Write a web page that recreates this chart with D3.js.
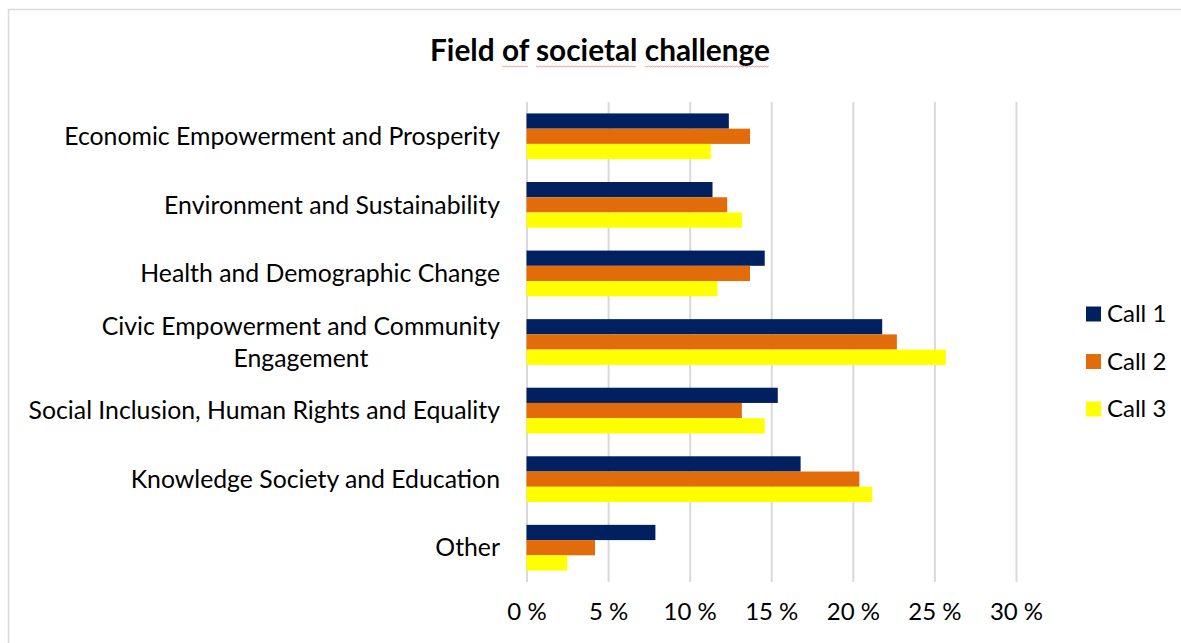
<!DOCTYPE html>
<html>
<head>
<meta charset="utf-8">
<script src="https://cdn.jsdelivr.net/npm/d3@7"></script>
<style>
  body { margin: 0; background: #fff; }
  svg { display: block; font-family: Lato, "Open Sans", sans-serif; }
  .tick line { stroke: #d9d9d9; stroke-width: 2px; }
  .tick text { font-size: 24px; fill: #000; }
</style>
</head>
<body>
<svg width="1181" height="643"></svg>
<script>
const categories = [
  'Economic Empowerment and Prosperity',
  'Environment and Sustainability',
  'Health and Demographic Change',
  'Civic Empowerment and Community Engagement',
  'Social Inclusion, Human Rights and Equality',
  'Knowledge Society and Education',
  'Other'
];
// line breaks for long labels
const categoryLines = {
  'Civic Empowerment and Community Engagement': ['Civic Empowerment and Community', 'Engagement']
};
const seriesNames = ['Call 1', 'Call 2', 'Call 3'];
const seriesColors = ['#002060', '#e36c0a', '#ffff00'];
const call1 = [12.4, 11.4, 14.6, 21.8, 15.4, 16.8, 7.9];
const call2 = [13.7, 12.3, 13.7, 22.7, 13.2, 20.4, 4.2];
const call3 = [11.3, 13.2, 11.7, 25.7, 14.6, 21.2, 2.5];
const xTicks = [0, 5, 10, 15, 20, 25, 30];
const titleText = 'Field of societal challenge';
const flaggedWords = ['of', 'societal', 'challenge'];

const seriesValues = [call1, call2, call3];
const data = categories.map((c, i) => ({
  category: c,
  values: seriesNames.map((s, j) => ({ series: s, value: seriesValues[j][i] }))
}));

const svg = d3.select('svg');
const plot = { left: 526.5, right: 1016, top: 102, bottom: 582 };

// chart border
svg.append('rect')
    .attr('x', 8.5).attr('y', 9.5)
    .attr('width', 1180).attr('height', 650)
    .attr('fill', '#fff')
    .attr('stroke', '#d9d9d9')
    .attr('stroke-width', 1.5);

const title = svg.append('text')
    .attr('x', 600).attr('y', 61)
    .attr('text-anchor', 'middle')
    .style('font-size', '29.8px')
    .style('font-weight', 'bold')
    .text(titleText);

// spell-check squiggles under some title words
const tNode = title.node();
let pos = 0;
titleText.split(' ').forEach(w => {
  const i = titleText.indexOf(w, pos);
  pos = i + w.length;
  if (!flaggedWords.includes(w)) return;
  const x0 = tNode.getStartPositionOfChar(i).x;
  const x1 = tNode.getEndPositionOfChar(i + w.length - 1).x;
  const pts = d3.range(x0, x1, 2).map((x, k) => [x, 66 + (k % 2 ? 1 : 0)]);
  svg.append('path')
      .attr('d', d3.line()(pts))
      .attr('fill', 'none')
      .attr('stroke', '#f4a0a0')
      .attr('stroke-width', 1);
});

const xScale = d3.scaleLinear().domain([0, 30]).range([plot.left, plot.right]);
const yScale = d3.scaleBand()
    .domain(categories)
    .range([plot.top, plot.bottom])
    .paddingInner(1 / 3)
    .paddingOuter(1 / 6);
const ySub = d3.scaleBand().domain(seriesNames).range([0, yScale.bandwidth()]);
const color = d3.scaleOrdinal().domain(seriesNames).range(seriesColors);

const xAxis = d3.axisBottom(xScale)
    .tickValues(xTicks)
    .tickSize(-(plot.bottom - plot.top))
    .tickPadding(21)
    .tickFormat(d => d + ' %');

svg.append('g')
    .attr('transform', `translate(0,${plot.bottom})`)
    .call(xAxis)
    .call(g => g.select('.domain').remove())
    .selectAll('text').style('font-family', 'Lato, sans-serif');

const groups = svg.append('g').selectAll('g')
  .data(data)
  .join('g')
    .attr('transform', d => `translate(0,${yScale(d.category)})`);

groups.selectAll('rect')
  .data(d => d.values)
  .join('rect')
    .attr('x', xScale(0))
    .attr('y', d => ySub(d.series))
    .attr('width', d => xScale(d.value) - xScale(0))
    .attr('height', ySub.bandwidth())
    .attr('fill', d => color(d.series));

// category labels
const labels = svg.append('g').selectAll('text')
  .data(categories)
  .join('text')
    .style('font-size', '24.8px')
    .attr('fill', '#000');

labels.each(function(c) {
  const lines = categoryLines[c] || [c];
  const t = d3.select(this);
  const cy = yScale(c) + yScale.bandwidth() / 2;
  const lh = 32;
  lines.forEach((l, i) => {
    t.append('tspan')
      .attr('y', cy + (i - (lines.length - 1) / 2) * lh)
      .attr('dy', '0.35em')
      .text(l);
  });
  let maxW = 0;
  t.selectAll('tspan').each(function() { maxW = Math.max(maxW, this.getComputedTextLength()); });
  t.attr('text-anchor', 'middle');
  t.selectAll('tspan').attr('x', 500 - maxW / 2);
});

// legend
const legend = svg.append('g').selectAll('g')
  .data(seriesNames)
  .join('g')
    .attr('transform', (d, i) => `translate(1086,${314 + i * 47.5})`);

legend.append('rect')
    .attr('x', 0).attr('y', -7.5)
    .attr('width', 15).attr('height', 15)
    .attr('fill', d => color(d));

legend.append('text')
    .attr('x', 21).attr('dy', '0.35em')
    .style('font-size', '24px')
    .text(d => d);
</script>
</body>
</html>
